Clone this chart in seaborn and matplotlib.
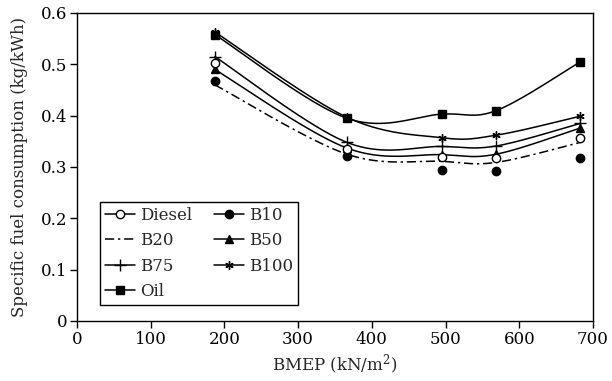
import numpy as np
import pandas as pd
import seaborn as sns
import matplotlib.pyplot as plt
from matplotlib.lines import Line2D

sns.set_style('ticks')
plt.rcParams['font.family'] = ['DejaVu Serif']
plt.rcParams['mathtext.fontset'] = 'dejavuserif'

# BMEP (kN/m2) and specific fuel consumption (kg/kWh)
bmep = [187, 366, 495, 569, 683]
diesel = [0.502, 0.335, 0.320, 0.318, 0.357]
b10 = [0.467, 0.322, 0.295, 0.292, 0.318]
b20 = [0.460, 0.325, 0.311, 0.309, 0.348]
b50 = [0.490, 0.337, 0.324, 0.325, 0.376]
b75 = [0.515, 0.348, 0.340, 0.341, 0.385]
b100 = [0.563, 0.397, 0.357, 0.362, 0.399]
oil = [0.558, 0.395, 0.403, 0.410, 0.505]

W, H = 516.0, 308.0  # axes size in px, smoothing done in screen space like Excel


def smooth(x, y, n=40):
    # Catmull-Rom style bezier through the points
    p = np.column_stack([np.array(x) / 700 * W, np.array(y) / 0.6 * H])
    pts = []
    for i in range(len(p) - 1):
        p0 = p[i - 1] if i > 0 else p[i]
        p3 = p[i + 2] if i + 2 < len(p) else p[i + 1]
        p1, p2 = p[i], p[i + 1]
        c1 = p1 + (p2 - p0) / 6
        c2 = p2 - (p3 - p1) / 6
        t = np.linspace(0, 1, n)[:, None]
        seg = (1 - t) ** 3 * p1 + 3 * (1 - t) ** 2 * t * c1 + 3 * (1 - t) * t ** 2 * c2 + t ** 3 * p2
        pts.append(seg if i == 0 else seg[1:])
    pts = np.vstack(pts)
    return pd.DataFrame({'x': pts[:, 0] / W * 700, 'y': pts[:, 1] / H * 0.6})


fig = plt.figure(figsize=(6.12, 3.81), dpi=100)
ax = fig.add_axes([0.1258, 0.1575, 0.8431, 0.8084])

dashdot = (0, (6, 2.5, 1.5, 2.5))
for vals, ls in [(oil, '-'), (b100, '-'), (b75, '-'), (b50, '-'), (b20, dashdot)]:
    d = smooth(bmep, vals)
    sns.lineplot(data=d, x='x', y='y', sort=False, estimator=None, color='black',
                 lw=1.1, linestyle=ls, ax=ax)

mk = dict(color='black', linestyle='none', markersize=6, markeredgewidth=1.0)
ax.plot(bmep, oil, marker='s', **mk)
ax.plot(bmep, b100, marker=(6, 2, 0), **mk)
ax.plot(bmep, b75, marker='+', **dict(mk, markersize=9))
ax.plot(bmep, b50, marker='^', **mk)
ax.plot(bmep, b10, marker='o', **mk)
ax.plot(bmep, diesel, marker='o', markerfacecolor='white', **mk)

ax.set_xlim(0, 700)
ax.set_ylim(0, 0.6)
ax.set_xticks(range(0, 701, 100))
ax.set_yticks([0, 0.1, 0.2, 0.3, 0.4, 0.5, 0.6])
ax.set_yticklabels(['0', '0.1', '0.2', '0.3', '0.4', '0.5', '0.6'])
ax.tick_params(labelsize=12, length=5, width=1, pad=2, color='black', labelcolor='black')
for s in ax.spines.values():
    s.set_color('black')
    s.set_linewidth(1)
ax.set_xlabel('BMEP (kN/m$^2$)', fontsize=12, labelpad=4)
ax.set_ylabel('Specific fuel consumption (kg/kWh)', fontsize=12, labelpad=9)

lk = dict(color='black', lw=1.1, markersize=6)
h_diesel = Line2D([], [], marker='o', markerfacecolor='white', **lk)
h_b10 = Line2D([], [], marker='o', **lk)
h_b20 = Line2D([], [], linestyle=dashdot, **lk)
h_b50 = Line2D([], [], marker='^', **lk)
h_b75 = Line2D([], [], marker='+', **dict(lk, markersize=9))
h_b100 = Line2D([], [], marker=(6, 2, 0), **lk)
h_oil = Line2D([], [], marker='s', **lk)
leg = ax.legend([h_diesel, h_b20, h_b75, h_oil, h_b10, h_b50, h_b100],
                ['Diesel', 'B20', 'B75', 'Oil', 'B10', 'B50', 'B100'],
                ncol=2, loc='lower left', bbox_to_anchor=(0.045, 0.052),
                borderaxespad=0, fontsize=12, frameon=True, fancybox=False,
                handlelength=1.8, handletextpad=0.3, columnspacing=1.3,
                labelspacing=0.5, borderpad=0.3)
leg.get_frame().set_edgecolor('black')
leg.get_frame().set_linewidth(1)
leg.get_frame().set_alpha(1)

fig.savefig('out.png', dpi=100)
